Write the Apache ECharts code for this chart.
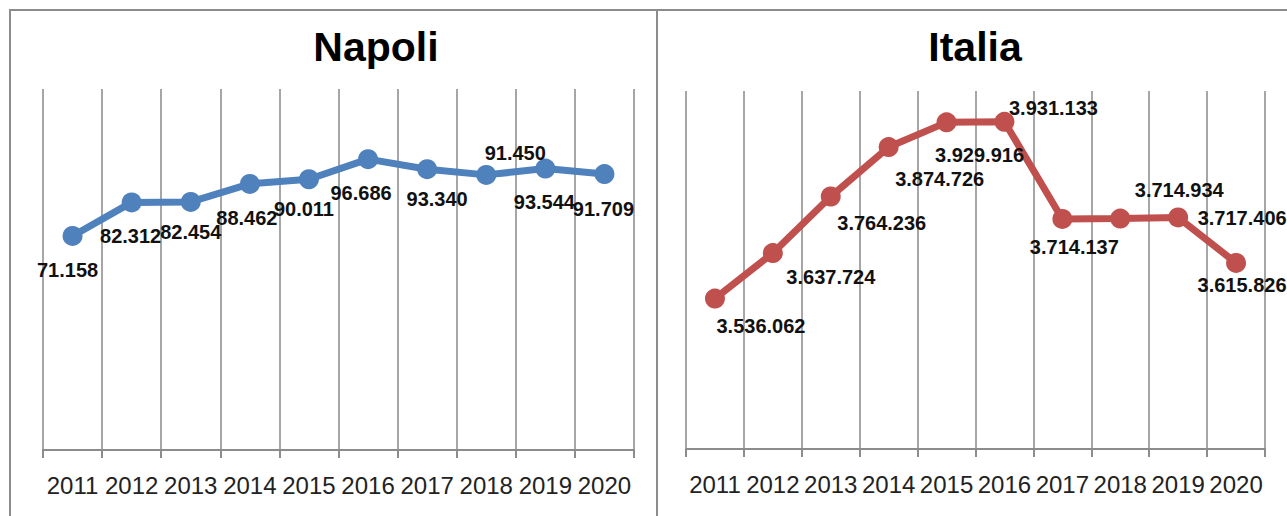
<!DOCTYPE html>
<html>
<head>
<meta charset="utf-8">
<title>Napoli / Italia 2011-2020</title>
<script src="https://cdn.jsdelivr.net/npm/echarts@6/dist/echarts.min.js"></script>
<style>
  html, body { margin: 0; padding: 0; background: #ffffff; }
  #chart { width: 1287px; height: 516px; }
</style>
</head>
<body>
<div id="chart"></div>
<script>
// Anni sull'asse orizzontale
const years = ['2011', '2012', '2013', '2014', '2015', '2016', '2017', '2018', '2019', '2020'];

// Valori annuali
const napoli = [71158, 82312, 82454, 88462, 90011, 96686, 93340, 91450, 93544, 91709];
const italia = [3536062, 3637724, 3764236, 3874726, 3929916, 3931133, 3714137, 3714934, 3717406, 3615826];

// Scostamento delle etichette rispetto al punto (px)
const napoliLabelShift = [[-5, 34], [-1, 34], [0, 30], [-3, 34], [-5, 30], [-7, 34], [10, 30], [29, -22], [-1, 33], [-1, 35]];
const italiaLabelShift = [[46, 27], [58, 24], [51, 26], [51, 32], [33, 33], [49, -14], [12, 28], [59, -29], [64, 1], [6, 22]];

const FONT = '"Liberation Sans", Arial, sans-serif';
const GRID_GREY = '#a6a6a6';
const AXIS_GREY = '#8c8c8c';

// Separatore delle migliaia all'italiana
function fmt(v) {
  return String(Math.round(v)).replace(/\B(?=(\d{3})+(?!\d))/g, '.');
}

function points(values, shifts) {
  return values.map((v, i) => ({ value: v, label: { offset: shifts[i] } }));
}

function xAxisFor(gridIndex) {
  return {
    type: 'category',
    gridIndex: gridIndex,
    data: years,
    boundaryGap: true,
    axisLine: { show: true, lineStyle: { color: AXIS_GREY, width: 2 } },
    axisTick: { show: true, length: 8, alignWithLabel: false, lineStyle: { color: AXIS_GREY, width: 2 } },
    splitLine: { show: true, lineStyle: { color: GRID_GREY, width: 2 } },
    axisLabel: { interval: 0, margin: 23, fontSize: 24, color: '#222', fontFamily: FONT }
  };
}

function yAxisFor(gridIndex, min, max) {
  return {
    type: 'value',
    gridIndex: gridIndex,
    min: min,
    max: max,
    axisLine: { show: false },
    axisTick: { show: false },
    axisLabel: { show: false },
    splitLine: { show: false }
  };
}

function lineSeries(idx, values, shifts, color) {
  return {
    type: 'line',
    xAxisIndex: idx,
    yAxisIndex: idx,
    data: points(values, shifts),
    symbol: 'circle',
    symbolSize: 20,
    lineStyle: { color: color, width: 7 },
    itemStyle: { color: color },
    label: {
      show: true,
      position: 'inside',
      formatter: p => fmt(p.value),
      fontFamily: FONT,
      fontWeight: 'bold',
      fontSize: 20,
      color: '#111'
    },
    emphasis: { disabled: true },
    animation: false,
    z: 3
  };
}

const chart = echarts.init(document.getElementById('chart'), null, { renderer: 'svg' });

chart.setOption({
  backgroundColor: '#ffffff',
  animation: false,
  grid: [
    { left: 43, top: 89, width: 591, height: 361 },
    { left: 686, top: 91, width: 579, height: 358 }
  ],
  xAxis: [xAxisFor(0), xAxisFor(1)],
  yAxis: [yAxisFor(0, 0, 120000), yAxisFor(1, 3200000, 4000000)],
  series: [
    lineSeries(0, napoli, napoliLabelShift, '#4f81bd'),
    lineSeries(1, italia, italiaLabelShift, '#c0504d')
  ],
  graphic: [
    { type: 'rect', z: -1, silent: true, shape: { x: 10, y: 10, width: 647, height: 530 },
      style: { fill: 'none', stroke: AXIS_GREY, lineWidth: 2 } },
    { type: 'rect', z: -1, silent: true, shape: { x: 657, y: 10, width: 700, height: 530 },
      style: { fill: 'none', stroke: AXIS_GREY, lineWidth: 2 } },
    { type: 'text', x: 376, y: 47, silent: true,
      style: { text: 'Napoli', font: 'bold 41px ' + FONT, fill: '#000', textAlign: 'center', textVerticalAlign: 'middle' } },
    { type: 'text', x: 975, y: 47, silent: true,
      style: { text: 'Italia', font: 'bold 41px ' + FONT, fill: '#000', textAlign: 'center', textVerticalAlign: 'middle' } }
  ]
});
</script>
</body>
</html>
